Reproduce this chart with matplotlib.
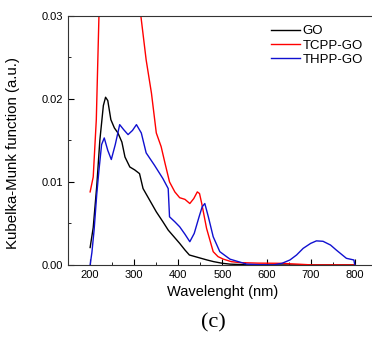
import numpy as np
import matplotlib.pyplot as plt
from matplotlib.ticker import MultipleLocator

plt.rcParams['font.family'] = ['Liberation Sans', 'DejaVu Sans']

# GO
go_x = [200, 207, 215, 222, 230, 235, 240, 247, 255, 263, 272, 279, 290, 301, 312,
        320, 335, 350, 365, 377, 390, 403, 415, 425, 445, 465, 480, 500, 517, 540, 560, 600, 700, 800]
go_y = [0.0021, 0.0045, 0.0095, 0.015, 0.0192, 0.0202, 0.0198, 0.0175, 0.0165, 0.0159, 0.0148, 0.013,
        0.0118, 0.01145, 0.0110, 0.0092, 0.0078, 0.0064, 0.0052, 0.0042, 0.0034, 0.0026, 0.0018,
        0.0012, 0.0009, 0.0006, 0.0004, 0.0002, 0.0001, 0.00005, 0.0, 0.0, 0.0, 0.0]

# TCPP-GO
tcpp_x = [200, 207, 214, 220, 235, 260, 290, 315, 327, 339, 350, 361, 370, 380, 392, 403, 415,
          426, 435, 443, 448, 453, 464, 479, 490, 502, 520, 540, 580, 630, 670, 705, 750, 800]
tcpp_y = [0.0088, 0.0106, 0.0175, 0.030, 0.042, 0.046, 0.040, 0.030, 0.0247, 0.0207, 0.0159,
          0.01425, 0.0122, 0.0100, 0.0088, 0.0081, 0.0079, 0.0074, 0.0080, 0.0088, 0.0086, 0.0074,
          0.0044, 0.0016, 0.0010, 0.0007, 0.0004, 0.00028, 0.00022, 0.0002, 0.0001, 0.0, 0.0, 0.0]

# THPP-GO
thpp_x = [200, 204, 209, 215, 220, 226, 232, 240, 248, 257, 267, 276, 286, 296, 305, 316, 327,
          346, 365, 377, 380, 392, 403, 415, 426, 436, 447, 454, 460, 468, 479, 494, 517, 555, 585,
          615, 635, 653, 668, 683, 700, 713, 728, 745, 758, 781, 798, 800]
thpp_y = [0.0, 0.0015, 0.0042, 0.0085, 0.0114, 0.0145, 0.0153, 0.0138, 0.0127, 0.0145, 0.0169,
          0.0163, 0.0157, 0.0162, 0.0169, 0.0159, 0.0135, 0.0120, 0.0104, 0.0092, 0.0058, 0.0052,
          0.0046, 0.0037, 0.0028, 0.0038, 0.0058, 0.0070, 0.0074, 0.0058, 0.0034, 0.0016, 0.0007,
          0.0001, 0.00003, 0.0, 0.0002, 0.0006, 0.0012, 0.0020, 0.0026, 0.0029, 0.00285, 0.0024,
          0.0018, 0.0008, 0.0006, 0.0]

fig = plt.figure(figsize=(3.72, 3.45), dpi=100)
ax = fig.add_axes([0.183, 0.232, 0.83, 0.722])

ax.plot(go_x, go_y, color='black', lw=1.0, label='GO')
ax.plot(tcpp_x, tcpp_y, color='red', lw=1.0, label='TCPP-GO')
ax.plot(thpp_x, thpp_y, color='#1010d0', lw=1.0, label='THPP-GO')

ax.set_xlim(150, 850)
ax.set_ylim(0, 0.03)
ax.set_xticks([200, 300, 400, 500, 600, 700, 800])
ax.set_yticks([0.00, 0.01, 0.02, 0.03])
ax.set_yticklabels(['0.00', '0.01', '0.02', '0.03'])
ax.xaxis.set_minor_locator(MultipleLocator(50))
ax.yaxis.set_minor_locator(MultipleLocator(0.005))
ax.tick_params(which='both', direction='in', labelsize=8, top=False, right=False)
ax.tick_params(which='major', length=4)
ax.tick_params(which='minor', length=2.5)
for s in ax.spines.values():
    s.set_color('#333333')
    s.set_linewidth(0.8)
ax.spines['right'].set_visible(False)

ax.set_xlabel('Wavelenght (nm)', fontsize=10.5)
ax.set_ylabel('Kubelka-Munk function (a.u.)', fontsize=10.8)
ax.yaxis.set_label_coords(-0.155, 0.45)

ax.legend(loc='upper right', bbox_to_anchor=(0.985, 1.0), frameon=False, fontsize=9.5,
          handlelength=2.2, handletextpad=0.2, labelspacing=0.15, borderaxespad=0.3)

fig.text(0.573, 0.035, '(c)', family='Liberation Serif', fontsize=16, ha='center', va='bottom')

fig.savefig('out.png', dpi=100)
